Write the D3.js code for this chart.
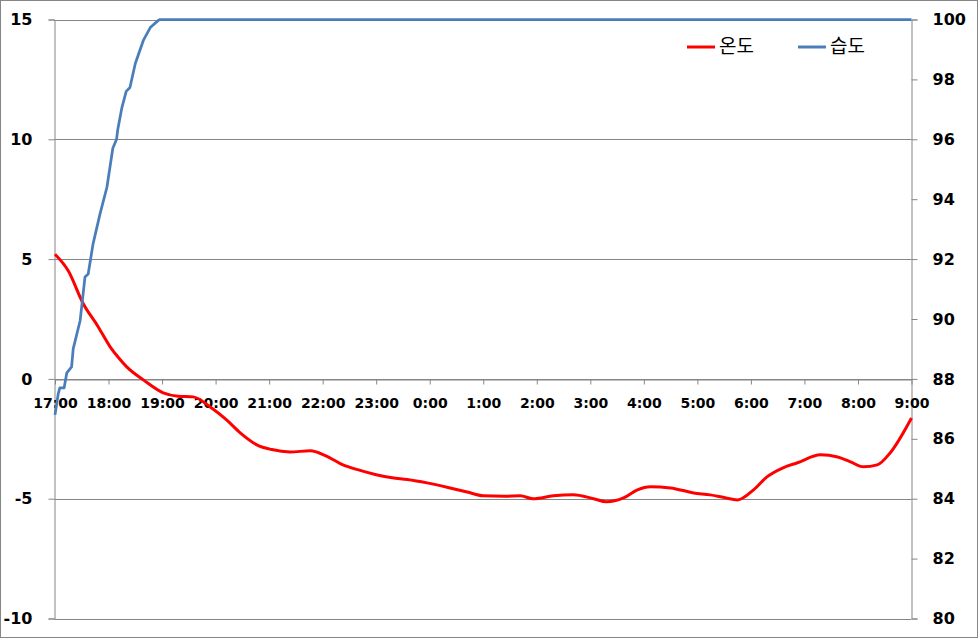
<!DOCTYPE html>
<html><head><meta charset="utf-8">
<script src="https://cdn.jsdelivr.net/npm/d3@7"></script>
<style>body{margin:0;background:#fff}svg{display:block}</style>
</head><body><svg id="c" width="978" height="639"></svg>
<script>
// hours after 17:00
const timeLabels = ["17:00","18:00","19:00","20:00","21:00","22:00","23:00","0:00","1:00","2:00","3:00","4:00","5:00","6:00","7:00","8:00","9:00"];
const tempHours = [0,0.25,0.52,0.8,1.03,1.2,1.34,1.65,2.02,2.3,2.58,2.9,3.2,3.46,3.77,4.05,4.39,4.77,5.05,5.38,5.7,6.0,6.3,6.58,6.95,7.38,7.7,8.0,8.4,8.69,8.93,9.31,9.68,10.06,10.3,10.62,10.88,11.12,11.5,11.93,12.24,12.5,12.75,13.05,13.3,13.6,13.87,14.3,14.62,14.85,15.1,15.36,15.6,16];
const tempValues = [5.2,4.5,3.17,2.2,1.34,0.85,0.5,-0.04,-0.58,-0.72,-0.75,-1.17,-1.7,-2.25,-2.75,-2.95,-3.05,-3.0,-3.2,-3.59,-3.82,-4.0,-4.13,-4.2,-4.34,-4.55,-4.72,-4.88,-4.9,-4.88,-5.0,-4.88,-4.84,-5.0,-5.13,-4.97,-4.63,-4.5,-4.55,-4.76,-4.84,-4.95,-5.05,-4.63,-4.09,-3.71,-3.5,-3.17,-3.26,-3.45,-3.67,-3.59,-3.09,-1.63];
const humHours = [0,0.06,0.09,0.17,0.22,0.31,0.34,0.47,0.56,0.62,0.71,0.84,0.97,1.08,1.15,1.17,1.25,1.33,1.4,1.5,1.65,1.78,1.93,1.96,16];
const humValues = [86.8,87.5,87.7,87.7,88.2,88.4,89.0,89.95,91.4,91.5,92.5,93.5,94.4,95.7,96.0,96.3,97.06,97.6,97.73,98.53,99.3,99.73,99.97,100,100];
const leftTicks = [15,10,5,0,-5,-10];
const rightTicks = [100,98,96,94,92,90,88,86,84,82,80];
const seriesNames = ["온도","습도"];

const svg = d3.select("#c");
const L = 54.5, R = 911.5, T = 19.5, B = 618.5;
const x = d3.scaleLinear().domain([0,16]).range([L+0.5,R]);
const yL = d3.scaleLinear().domain([-10,15]).range([B,T]);
const yR = d3.scaleLinear().domain([80,100]).range([B,T]);
const gray = "#868686";

svg.append("rect").attr("x",0.5).attr("y",0.5).attr("width",977).attr("height",637)
  .attr("fill","#fff").attr("stroke",gray);

// gridlines
svg.append("g").selectAll("line").data(leftTicks).join("line")
  .attr("x1",L).attr("x2",R).attr("y1",d=>Math.round(yL(d))+0.5).attr("y2",d=>Math.round(yL(d))+0.5)
  .attr("stroke",gray);

const font = "'DejaVu Sans', sans-serif";
// left axis
const gl = svg.append("g").attr("transform",`translate(${L},0)`)
  .call(d3.axisLeft(yL).tickValues(leftTicks).tickSize(6).tickPadding(16).tickFormat(d=>String(d)));
gl.selectAll("path,line").attr("stroke",gray);
gl.selectAll("text").attr("font-family",font).attr("font-weight","bold").attr("font-size",16).attr("fill","#000");

// right axis
const gr = svg.append("g").attr("transform",`translate(${R},0)`)
  .call(d3.axisRight(yR).tickValues(rightTicks).tickSize(6).tickPadding(15).tickFormat(d=>String(d)));
gr.selectAll("path,line").attr("stroke",gray);
gr.selectAll("text").attr("font-family",font).attr("font-weight","bold").attr("font-size",16).attr("fill","#000");

// x axis at 0
const gx = svg.append("g").attr("transform",`translate(0,${Math.round(yL(0))+0.5})`)
  .call(d3.axisBottom(x).tickValues(d3.range(0,17)).tickSize(5).tickSizeOuter(0).tickFormat((d,i)=>timeLabels[i]));
gx.selectAll("path,line").attr("stroke",gray);
gx.selectAll("text").attr("y",19).attr("font-family",font).attr("font-weight","bold").attr("font-size",14).attr("fill","#000");

// lines
const tempLine = d3.line().x((d,i)=>x(tempHours[i])).y(d=>yL(d)).curve(d3.curveMonotoneX);
const humLine = d3.line().x((d,i)=>x(humHours[i])).y(d=>yR(d)).curve(d3.curveLinear);
svg.append("path").datum(tempValues).attr("d",tempLine).attr("fill","none").attr("stroke","#ff0000").attr("stroke-width",3).attr("stroke-linejoin","round");
svg.append("path").datum(humValues).attr("d",humLine).attr("fill","none").attr("stroke","#4a7ebb").attr("stroke-width",2.75).attr("stroke-linejoin","round");

// legend
const lg = svg.append("g");
const legColors = ["#ff0000","#4a7ebb"];
const legX = [687,798];
seriesNames.forEach((n,i)=>{
  lg.append("line").attr("x1",legX[i]).attr("x2",legX[i]+28).attr("y1",47).attr("y2",47)
    .attr("stroke",legColors[i]).attr("stroke-width",3);
  lg.append("text").attr("x",legX[i]+32).attr("y",53).text(n)
    .attr("font-family","'Noto Sans CJK KR', sans-serif").attr("font-size",19).attr("fill","#000");
});
</script></body></html>
